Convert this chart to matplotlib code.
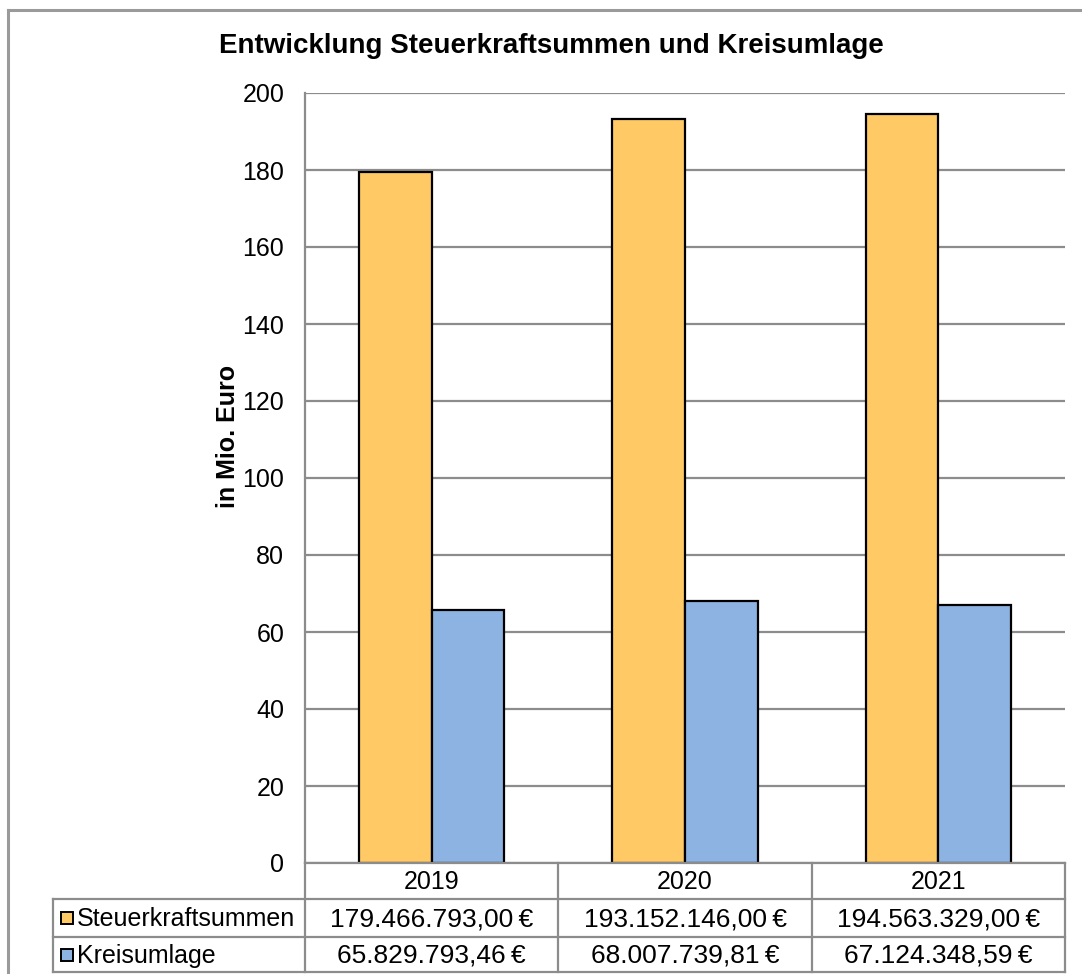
import matplotlib
matplotlib.use("Agg")
import matplotlib.pyplot as plt
from matplotlib.lines import Line2D
from matplotlib.patches import Rectangle

plt.rcParams['font.family'] = ['Liberation Sans', 'DejaVu Sans']

years = ["2019", "2020", "2021"]
series_names = ["Steuerkraftsummen", "Kreisumlage"]
steuerkraft = [179466793.00, 193152146.00, 194563329.00]
kreisumlage = [65829793.46, 68007739.81, 67124348.59]
colors = ["#FFCA66", "#8DB3E2"]
title = "Entwicklung Steuerkraftsummen und Kreisumlage"
ylabel = "in Mio. Euro"
yticks = [0, 20, 40, 60, 80, 100, 120, 140, 160, 180, 200]

W, H = 1082, 974
fig = plt.figure(figsize=(W / 100, H / 100), dpi=100)

def fx(px):
    return px / W

def fy(py):
    return 1 - py / H

ax_l, ax_r, ax_t, ax_b = 305, 1065, 93, 863
ax = fig.add_axes([fx(ax_l), fy(ax_b), fx(ax_r - ax_l), (ax_b - ax_t) / H])

grid_col = "#8C8C8C"
xs = list(range(len(years)))
bw = 0.287
series = [steuerkraft, kreisumlage]
for i, (vals, c) in enumerate(zip(series, colors)):
    off = (-0.5 + i) * bw
    ax.bar([x + off for x in xs], [v / 1e6 for v in vals], width=bw,
           color=c, edgecolor="black", linewidth=1.6, zorder=3)

ax.set_xlim(-0.5, len(years) - 0.5)
ax.set_ylim(0, 200)
ax.set_yticks(yticks)
ax.set_yticklabels([str(t) for t in yticks], fontsize=18)
ax.tick_params(axis='y', length=0, pad=15)
ax.set_xticks([])
ax.yaxis.grid(True, color=grid_col, linewidth=1.6, zorder=0)
ax.set_axisbelow(True)
for s in ["top", "right", "bottom"]:
    ax.spines[s].set_visible(False)
ax.spines["left"].set_color(grid_col)
ax.spines["left"].set_linewidth(1.6)

fig.text(fx(551), fy(46), title, fontsize=20, fontweight="bold",
         ha="center", va="center")
fig.text(fx(228), fy(436), ylabel, fontsize=18, fontweight="bold",
         rotation=90, ha="center", va="center")

# outer frame
frame_col = "#9A9A9A"
fig.add_artist(Line2D([fx(8), 1], [fy(10), fy(10)], color=frame_col, lw=2.2))
fig.add_artist(Line2D([fx(8), fx(8)], [fy(10), 0], color=frame_col, lw=2.2))

# data table
tcol = "#8C8C8C"
col_x = [ax_l + (ax_r - ax_l) * k / len(years) for k in range(len(years) + 1)]
row_y = [863, 899, 937, 972]
left_x = 53
lw = 1.6
fig.add_artist(Line2D([fx(ax_l), fx(ax_r)], [fy(row_y[0])] * 2, color=tcol, lw=lw))
for ry in row_y[1:]:
    fig.add_artist(Line2D([fx(left_x), fx(ax_r)], [fy(ry)] * 2, color=tcol, lw=lw))
for cx in col_x:
    fig.add_artist(Line2D([fx(cx)] * 2, [fy(row_y[0]), fy(row_y[-1])], color=tcol, lw=lw))
fig.add_artist(Line2D([fx(left_x)] * 2, [fy(row_y[1]), fy(row_y[-1])], color=tcol, lw=lw))

def de_fmt(v):
    s = f"{v:,.2f}"
    return s.replace(",", "X").replace(".", ",").replace("X", ".") + "\u2009€"

for k, y in enumerate(years):
    cx = (col_x[k] + col_x[k + 1]) / 2
    fig.text(fx(cx), fy((row_y[0] + row_y[1]) / 2 + 1), y, fontsize=18,
             ha="center", va="center")

for r, (name, vals, c) in enumerate(zip(series_names, series, colors)):
    cy = (row_y[r + 1] + row_y[r + 2]) / 2
    sq = 12
    fig.add_artist(Rectangle((fx(61), fy(cy + sq / 2)), fx(sq), sq / H,
                             facecolor=c, edgecolor="black", lw=1.4,
                             transform=fig.transFigure))
    fig.text(fx(77), fy(cy + 1), name, fontsize=18, ha="left", va="center")
    for k, v in enumerate(vals):
        cx = (col_x[k] + col_x[k + 1]) / 2
        fig.text(fx(cx), fy(cy + 1), de_fmt(v), fontsize=19,
                 ha="center", va="center")

fig.savefig("out.png", dpi=100, facecolor="white")
